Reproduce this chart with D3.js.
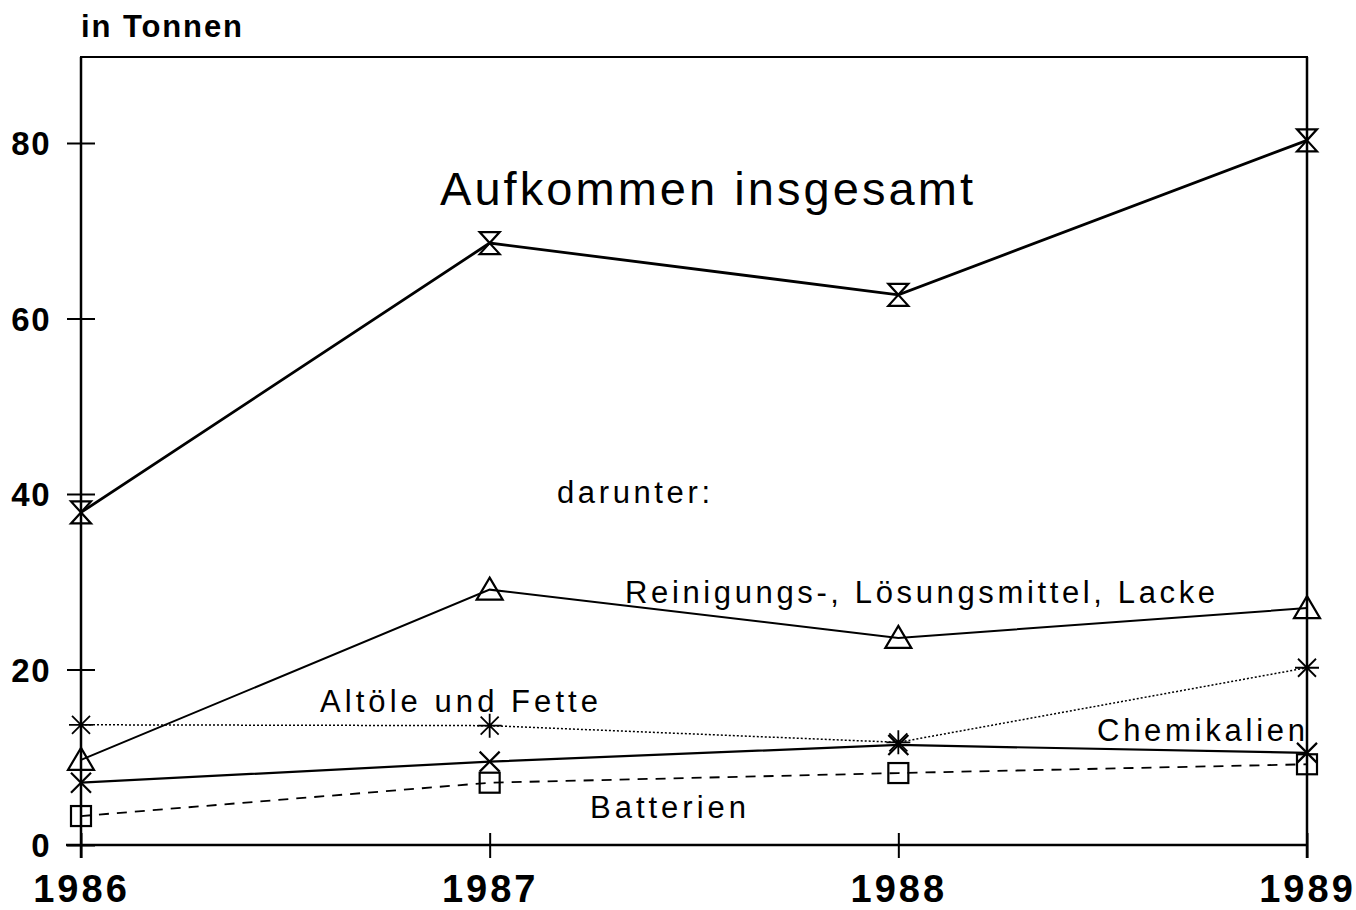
<!DOCTYPE html>
<html><head><meta charset="utf-8">
<script src="https://cdn.jsdelivr.net/npm/d3@7"></script>
<style>body{margin:0;background:#fff}svg{display:block}</style>
</head><body>
<svg id="chart" width="1356" height="910"></svg>
<script>
const years = [1986, 1987, 1988, 1989];
const yTicks = [0, 20, 40, 60, 80];
const totalValues = [37.9, 68.6, 62.7, 80.3];
const reinigungValues = [9.7, 29.1, 23.6, 27.0];
const altoeleValues = [13.7, 13.6, 11.7, 20.2];
const chemikalienValues = [7.1, 9.5, 11.4, 10.5];
const batterienValues = [3.3, 7.1, 8.2, 9.2];
const seriesNames = ["Aufkommen insgesamt", "Reinigungs-, Lösungsmittel, Lacke", "Altöle und Fette", "Chemikalien", "Batterien"];
const unitLabel = "in Tonnen";
const subLabel = "darunter:";

const svg = d3.select("#chart");
const x = d3.scaleLinear().domain([1986, 1989]).range([81, 1307]);
const y = d3.scaleLinear().domain([0, 89.8]).range([845, 57]);
const font = "'Liberation Sans', Arial, sans-serif";

// frame
svg.append("rect").attr("x", x(1986)).attr("y", y(89.8)).attr("width", x(1989) - x(1986)).attr("height", y(0) - y(89.8))
  .attr("fill", "none").attr("stroke", "#000").attr("stroke-width", 2);
// axis extensions
svg.append("line").attr("x1", 66).attr("x2", x(1989)).attr("y1", y(0)).attr("y2", y(0)).attr("stroke", "#000").attr("stroke-width", 2.5);
svg.append("line").attr("x1", x(1986)).attr("x2", x(1986)).attr("y1", y(89.8)).attr("y2", 858).attr("stroke", "#000").attr("stroke-width", 2.5);
svg.append("line").attr("x1", x(1989)).attr("x2", x(1989)).attr("y1", y(89.8)).attr("y2", 858).attr("stroke", "#000").attr("stroke-width", 2.5);

// y axis ticks
const yAxis = d3.axisLeft(y).tickValues(yTicks).tickSizeInner(14).tickSizeOuter(0).tickPadding(14).tickFormat(d3.format("d"));
const gy = svg.append("g").attr("transform", `translate(${x(1986)},0)`).call(yAxis);
gy.select(".domain").remove();
gy.selectAll(".tick line").attr("x2", 14).attr("x1", -14).attr("stroke-width", 2);
gy.selectAll(".tick text").attr("x", -30).attr("font-family", font).attr("font-weight", "bold").attr("font-size", 33).attr("letter-spacing", 1.5).attr("fill", "#000").attr("dy", "0.36em");

// x axis ticks
const xAxis = d3.axisBottom(x).tickValues(years).tickSizeInner(13).tickSizeOuter(0).tickPadding(16).tickFormat(d3.format("d"));
const gx = svg.append("g").attr("transform", `translate(0,${y(0)})`).call(xAxis);
gx.select(".domain").remove();
gx.selectAll(".tick line").attr("y1", -12).attr("y2", 13).attr("stroke-width", 2);
gx.selectAll(".tick text").attr("font-family", font).attr("font-weight", "bold").attr("font-size", 38).attr("letter-spacing", 3).attr("fill", "#000").attr("dy", "0.74em");

// unit
svg.append("text").attr("x", 81).attr("y", 37).text(unitLabel).attr("font-family", font).attr("font-weight", "bold").attr("font-size", 31)
  .attr("textLength", 161).attr("lengthAdjust", "spacing");

const line = d3.line().x((d, i) => x(years[i])).y(d => y(d));

const series = [
  {values: totalValues, width: 2.8, dash: null, marker: "hourglass"},
  {values: reinigungValues, width: 2, dash: null, marker: "triangle"},
  {values: altoeleValues, width: 1.5, dash: "2,2", marker: "asterisk"},
  {values: chemikalienValues, width: 2.2, dash: null, marker: "x"},
  {values: batterienValues, width: 1.8, dash: "10,8", marker: "square"}
];

function drawMarker(g, type, cx, cy) {
  const s = g.append("g").attr("transform", `translate(${cx},${cy})`).attr("fill", "none").attr("stroke", "#000").attr("stroke-width", 2.2);
  if (type === "hourglass") {
    s.append("path").attr("d", "M-10,-11 L10,-11 L0,0 Z M-10,11 L10,11 L0,0 Z");
  } else if (type === "triangle") {
    s.append("path").attr("d", "M0,-12 L13,10 L-13,10 Z");
  } else if (type === "asterisk") {
    s.append("path").attr("d", "M-12,0 L12,0 M0,-12 L0,12 M-9,-9 L9,9 M-9,9 L9,-9").attr("stroke-width", 1.8);
  } else if (type === "x") {
    s.append("path").attr("d", "M-10,-10 L10,10 M-10,10 L10,-10");
  } else if (type === "square") {
    s.append("rect").attr("x", -10).attr("y", -10).attr("width", 20).attr("height", 20);
  }
}

series.forEach(se => {
  svg.append("path").datum(se.values).attr("d", line).attr("fill", "none").attr("stroke", "#000")
    .attr("stroke-width", se.width).attr("stroke-dasharray", se.dash);
  const g = svg.append("g");
  se.values.forEach((v, i) => drawMarker(g, se.marker, x(years[i]), y(v)));
});

// labels
const labels = [
  {t: seriesNames[0], x: 440, y: 205, size: 47, len: 533},
  {t: subLabel, x: 557, y: 503, size: 31, len: 153},
  {t: seriesNames[1], x: 625, y: 603, size: 31, len: 590},
  {t: seriesNames[2], x: 320, y: 712, size: 31, len: 278},
  {t: seriesNames[3], x: 1097, y: 741, size: 31, len: 208},
  {t: seriesNames[4], x: 590, y: 818, size: 31, len: 156}
];
labels.forEach(l => {
  svg.append("text").attr("x", l.x).attr("y", l.y).text(l.t).attr("font-family", font).attr("font-size", l.size)
    .attr("textLength", l.len).attr("lengthAdjust", "spacing").attr("fill", "#000");
});
</script>
</body></html>
